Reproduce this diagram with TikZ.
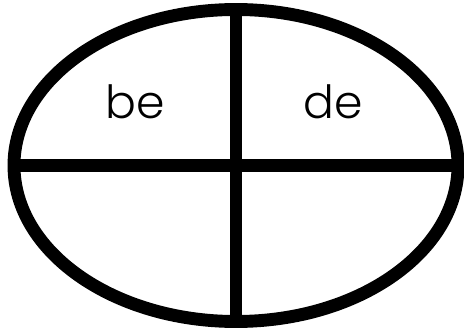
\documentclass[tikz,border=0pt]{standalone}
\usepackage{fontspec}
\setmainfont{Poppins Light}
\usetikzlibrary{shapes.geometric}

\begin{document}
\begin{tikzpicture}[x=0.03cm,y=0.03cm]
  \useasboundingbox (0,0) rectangle (464,328);
  \tikzset{bar/.style={line width=11pt}}
  \node[draw,ellipse,bar,inner sep=0pt,minimum width=13.32cm,minimum height=9.36cm] (oval) at (236,162.5) {};
  \draw[bar] (oval.north)--(oval.south);
  \draw[bar] (oval.west)--(oval.east);
  \node[anchor=base,font=\fontsize{39}{41}\selectfont] (be) at (135.5,209) {be};
  \node[anchor=base,font=\fontsize{39}{41}\selectfont] (de) at (333,209) {de};
\end{tikzpicture}
\end{document}
